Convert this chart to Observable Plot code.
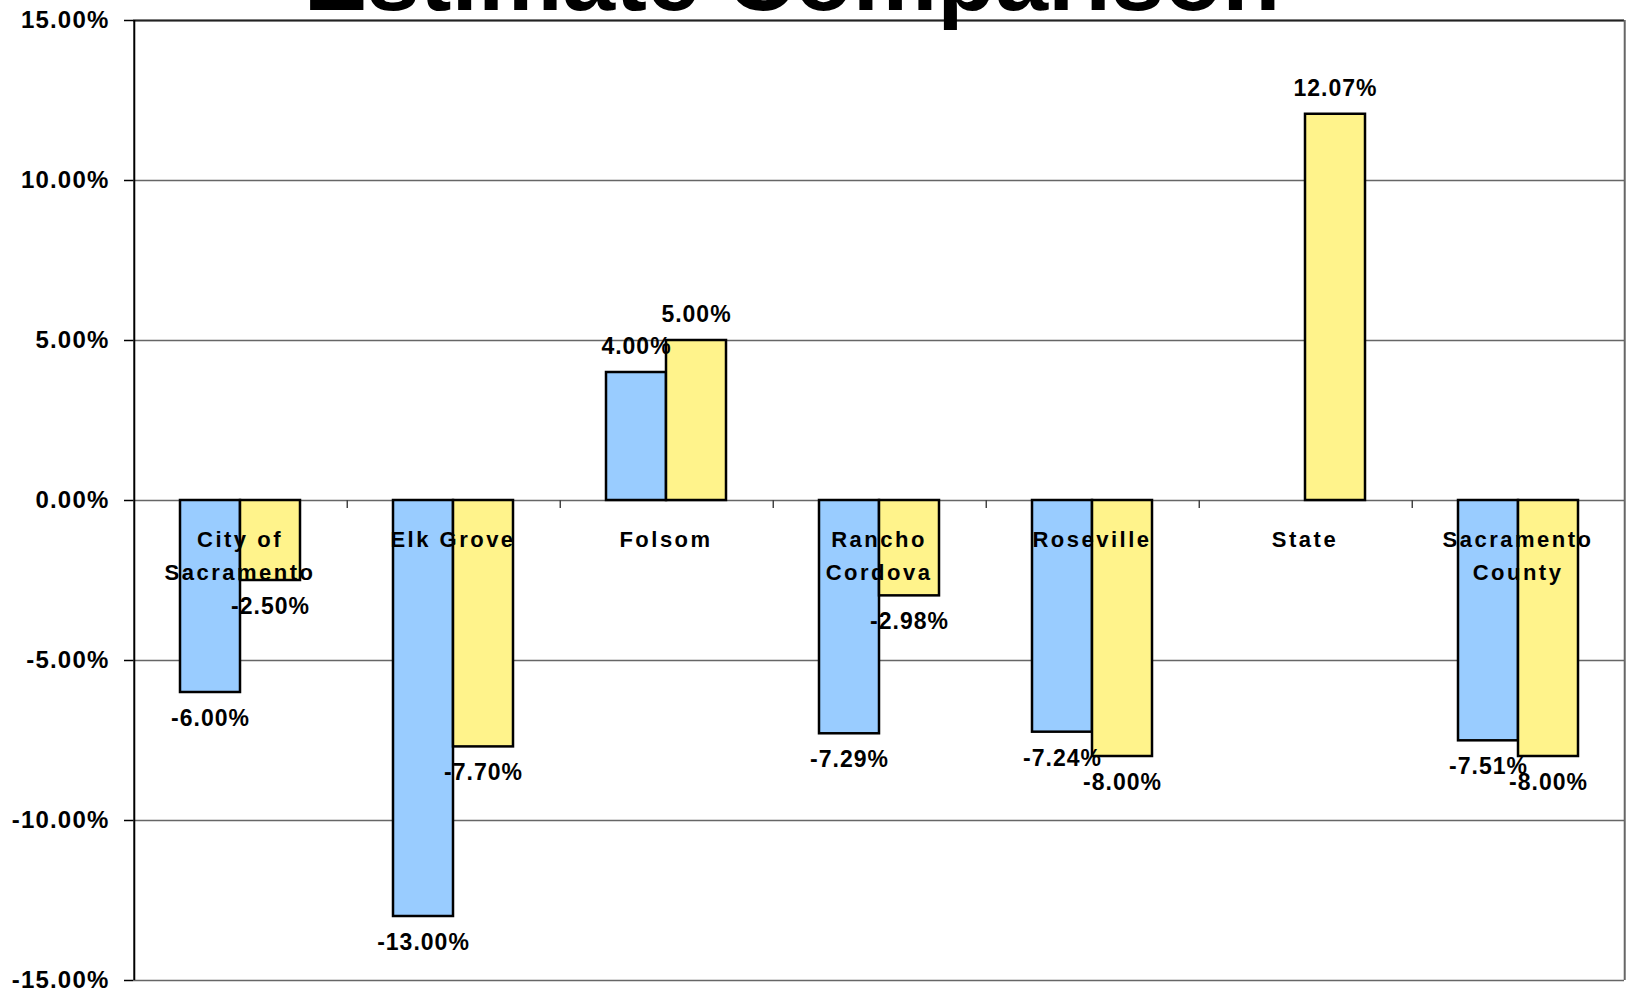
<!DOCTYPE html>
<html>
<head>
<meta charset="utf-8">
<script src="https://cdn.jsdelivr.net/npm/d3@7"></script>
<script src="https://cdn.jsdelivr.net/npm/@observablehq/plot@0.6"></script>
<style>
html, body { margin: 0; padding: 0; background: #fff; overflow: hidden; }
#wrap { position: relative; width: 1631px; height: 990px; }
#chart { position: absolute; left: 0; top: 0; }
#title {
  position: absolute; left: 292px; width: 1000px; top: -70px;
  text-align: center; font: bold 95px/1 "Liberation Sans", Arial, sans-serif;
  color: #000; white-space: nowrap; z-index: 2;
}
text[aria-label="category-label"], [aria-label="category-label"] tspan { letter-spacing: 2.5px; }
text[aria-label="value-label"] { letter-spacing: 1px; }
g[aria-label="y-axis tick label"] text { letter-spacing: 1.2px; }
</style>
</head>
<body>
<div id="wrap"><div id="chart"></div><div id="title">Estimate Comparison</div></div>
<script>
// ---- data ----
const categories = ["City of\nSacramento", "Elk Grove", "Folsom", "Rancho\nCordova", "Roseville", "State", "Sacramento\nCounty"];
const series = ["Series 1", "Series 2"];
const series1Values = [-6.00, -13.00, 4.00, -7.29, -7.24, null, -7.51];
const series2Values = [-2.50, -7.70, 5.00, -2.98, -8.00, 12.07, -8.00];
const yTicks = [-15, -10, -5, 0, 5, 10, 15];
const seriesColors = ["#99CCFF", "#FFF38B"];

const rows = [];
categories.forEach((c, i) => {
  if (series1Values[i] != null) rows.push({category: c, series: series[0], value: series1Values[i]});
  if (series2Values[i] != null) rows.push({category: c, series: series[1], value: series2Values[i]});
});

const W = 1631, H = 990, mL = 131, mR = 6, mT = 20, mB = 10;
const facetStep = (W - mL - mR) / categories.length;
const outerPad = 0.75;
const xStep = facetStep / (series.length + 2 * outerPad);
const edgeDx = (outerPad + 0.5) * xStep; // from first/last series band centre to facet edge
const fmt = v => v.toFixed(2) + "%";
const font = "'Liberation Sans', Arial, sans-serif";

const chart = Plot.plot({
  width: W, height: H,
  marginLeft: mL, marginRight: mR, marginTop: mT, marginBottom: mB,
  style: {fontFamily: font, fontWeight: "bold", fontSize: "23px", background: "#fff", color: "#000", overflow: "visible"},
  fx: {domain: categories, padding: 0, axis: null},
  x: {domain: series, paddingInner: 0, paddingOuter: outerPad, axis: null},
  y: {domain: [-15, 15], axis: null},
  color: {domain: series, range: seriesColors},
  marks: [
    Plot.gridY(yTicks, {stroke: "#666", strokeOpacity: 1, strokeWidth: 1.5}),
    Plot.ruleY([15], {stroke: "#222", strokeWidth: 2}),
    Plot.barY(rows, {fx: "category", x: "series", y: "value", fill: "series", stroke: "#000", strokeWidth: 2.5}),
    // category boundary ticks on the zero line
    Plot.ruleX(categories.slice(1), {fx: d => d, x: () => series[0], y1: 0, y2: -0.25, dx: -edgeDx, stroke: "#444", strokeWidth: 1.5}),
    // left axis line
    Plot.ruleX([categories[0]], {fx: d => d, x: () => series[0], y1: -15, y2: 15, dx: -edgeDx, stroke: "#000", strokeWidth: 2}),
    // right frame line
    Plot.ruleX([categories[categories.length - 1]], {fx: d => d, x: () => series[1], y1: -15, y2: 15, dx: edgeDx, stroke: "#666", strokeWidth: 2}),
    Plot.axisY(yTicks, {tickSize: 9, tickPadding: 15, tickFormat: fmt, fontSize: 24, fontWeight: "bold", stroke: "#000", strokeWidth: 1.5, label: null}),
    // category labels
    Plot.text(categories, {fx: d => d, y: 0, text: d => d, dy: 22, lineAnchor: "top", lineHeight: 1.54, fontSize: 22, fontWeight: "bold", fill: "#000", ariaLabel: () => "category-label"}),
    // value labels
    Plot.text(rows.filter(d => d.value >= 0), {fx: "category", x: "series", y: "value", text: d => fmt(d.value), dy: -26, fontSize: 23, fontWeight: "bold", fill: "#000", ariaLabel: () => "value-label"}),
    Plot.text(rows.filter(d => d.value < 0), {fx: "category", x: "series", y: "value", text: d => fmt(d.value), dy: 26, fontSize: 23, fontWeight: "bold", fill: "#000", ariaLabel: () => "value-label"})
  ]
});
document.getElementById("chart").appendChild(chart);
</script>
</body>
</html>
